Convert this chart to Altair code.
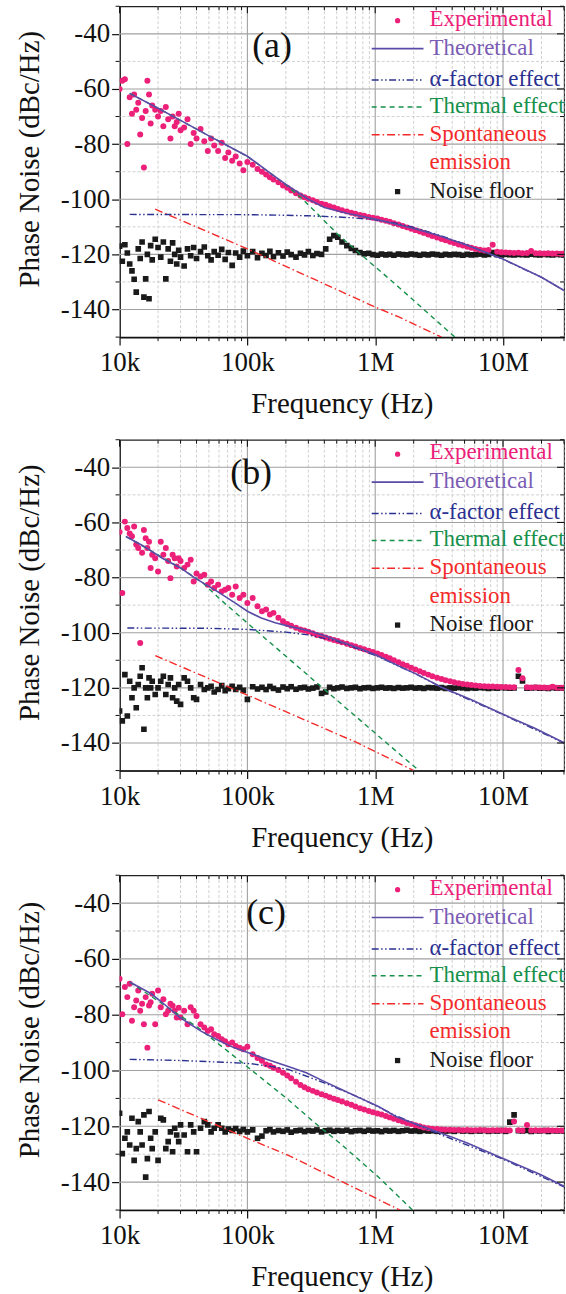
import altair as alt
import pandas as pd

FONT = "Liberation Serif"
W, H = 446, 332
H_C = 336
XDOM = [10000, 30000000]
YDOM = [-150, -30]

# ---------------- tick / label lists ----------------
X_TICKS = [10000, 20000, 30000, 40000, 50000, 60000, 70000, 80000, 90000,
           100000, 200000, 300000, 400000, 500000, 600000, 700000, 800000, 900000,
           1000000, 2000000, 3000000, 4000000, 5000000, 6000000, 7000000, 8000000, 9000000,
           10000000, 20000000, 30000000]
X_MAJOR = [10000, 100000, 1000000, 10000000]
X_LABELS = ["10k", "100k", "1M", "10M"]
X_MINOR = [t for t in X_TICKS if t not in X_MAJOR]
Y_MAJOR = [-140, -120, -100, -80, -60, -40]
Y_MINOR = [-150, -130, -110, -90, -70, -50, -30]
Y_GRID_MINOR = [-130, -110, -90, -70, -50]

# ---------------- measured data (frequency in kHz) ----------------
FREQ_K = [10, 10.5, 11, 11.5, 12, 12.5, 13, 13.5, 14, 14.5,
          15, 15.5, 16, 16.5, 17, 17.5, 18, 19, 20, 21,
          22, 23, 24, 25, 26, 27, 28, 29, 30, 32,
          34, 36, 38, 40, 43, 46, 49, 52, 55, 59,
          63, 67, 71, 76, 81, 87, 93, 100, 110, 120,
          130, 140, 150, 160, 175, 190, 205, 220, 240, 260,
          280, 300, 325, 350, 380, 410, 440, 475, 510, 550,
          600, 650, 700, 760, 820, 890, 960, 1040, 1120, 1210,
          1300, 1400, 1520, 1640, 1770, 1910, 2060, 2230, 2400, 2600,
          2800, 3050, 3300, 3550, 3850, 4150, 4500, 4850, 5250, 5650,
          6100, 6600, 7150, 7700, 8300, 9000, 9700, 10500, 11300, 12200,
          13200, 14200, 15400, 16600, 18000, 19400, 21000, 22600, 24400, 26400,
          28500, 30000]

EXP_A = [-60, -57, -56.5, -80, -63, -69, -62, -67.5, -65, -76.5,
         -70.5, -88.5, -68, -57, -62, -72.5, -66, -67.5, -70, -68,
         -73.5, -66.5, -71, -78, -70, -73.5, -72, -69, -75, -74,
         -71, -80, -76, -78, -74.5, -79, -82.5, -78, -80.5, -82.5,
         -79.5, -85, -83, -86, -84.5, -87, -89.5, -86.5, -87.5, -89,
         -90, -91, -92, -92.8, -93.8, -95, -95.8, -96.8, -97.8, -98.6,
         -99.3, -99.8, -100.4, -101, -101.6, -102, -102.5, -103, -103.5, -104,
         -104.4, -104.9, -105.3, -105.7, -106, -106.4, -106.7, -107, -107.4, -107.8,
         -108.2, -108.7, -109.2, -109.7, -110.2, -110.7, -111.2, -111.7, -112.2, -112.8,
         -113.3, -113.9, -114.4, -114.9, -115.4, -115.9, -116.4, -116.8, -117.2, -117.6,
         -118, -118.3, -118.6, -118.4, -116.5, -119, -119.2, -119.3, -119.4, -119.5,
         -119.4, -119.6, -119.5, -118.8, -119.6, -119.6, -119.7, -119.6, -119.7, -119.7,
         -119.8, -119.7]

NOISE_A = [-117, -122.5, -116.5, -119.5, -123.5, -126, -129, -133.7, -118, -121.5,
           -115.5, -135.5, -128.9, -120, -136.1, -116.8, -122, -114.5, -117.5, -121,
           -115.5, -128.9, -118, -122.5, -115.8, -120, -123.5, -118.5, -121, -124.2,
           -118, -120.5, -117.5, -121.5, -119, -117.3, -120.5, -122, -119, -120.3,
           -118.2, -121.8, -119.3, -124, -119.5, -121, -118.8, -120.5, -119, -121.2,
           -119.6, -120.4, -118.9, -120.8, -119.4, -120.6, -119.2, -120.1, -121, -119.6,
           -120.2, -119, -120.4, -119.7, -120, -118, -114.5, -113.2, -113.8, -115.5,
           -116.8, -117.8, -118.6, -119.3, -119.8, -119.6, -120.1, -120.3, -119.9, -120.2,
           -120, -120.3, -119.9, -120.1, -120.2, -119.9, -120.1, -120.3, -120, -120.2,
           -119.9, -120.1, -120.3, -120, -120.2, -120, -120.1, -120.3, -120, -120.2,
           -120.1, -119.9, -120.2, -120, -119.3, -120.1, -120.2, -120, -120.1, -120.2,
           -120, -120.1, -120.2, -119.9, -120.1, -120.2, -120, -120.1, -120.2, -120,
           -120.1, -120.2]

EXP_B = [-63.5, -85.6, -59.7, -62, -64, -65, -61.5, -68, -69.3, -103.7,
         -71, -62.7, -65.7, -69.3, -67, -76.5, -71.7, -73, -77.8, -67,
         -71.7, -69.3, -74, -80.2, -71.7, -73, -76, -73, -74, -76.5,
         -75.3, -73.5, -81.4, -78.5, -79.6, -79, -82.6, -81.4, -83.8, -82.6,
         -85, -84.4, -83.8, -86.2, -83.2, -87.4, -86.2, -89.2, -87.4, -90.4,
         -92.2, -91.6, -93.4, -92.8, -94.6, -95.8, -96.8, -97.5, -98.2, -98.8,
         -99.2, -99.6, -100.2, -100.8, -101.2, -101.7, -102.2, -102.6, -103, -103.5,
         -104, -104.5, -105, -105.5, -106, -106.5, -107, -107.5, -108.1, -108.7,
         -109.3, -110, -110.7, -111.4, -112, -112.7, -113.3, -114, -114.6, -115.2,
         -115.8, -116.3, -116.8, -117.2, -117.6, -118, -118.3, -118.6, -118.8, -119,
         -119.1, -119.3, -119.4, -119.5, -119.5, -119.6, -119.7, -119.7, -119.8, -119.8,
         -113.5, -116.5, -119.8, -119.9, -119.8, -119.9, -119.9, -120, -119.6, -120,
         -120, -120]

NOISE_B = [-128.4, -132, -115.2, -130.2, -117.6, -123.6, -120, -127.2, -118.8, -115.8,
           -112.7, -135, -120, -123.6, -116.4, -120, -117.6, -122.4, -120, -117.6,
           -115.8, -122.4, -118.8, -116.4, -123.6, -120, -124.8, -118.8, -126, -116.4,
           -117.6, -120, -123.6, -124.2, -118.8, -120.6, -120, -119.4, -121.5, -120.6,
           -119.2, -121, -120.3, -119.4, -120.6, -119.8, -120.9, -124.2, -119.6, -120.4,
           -119.8, -120.6, -119.5, -120.2, -120.8, -119.7, -120.3, -119.6, -120.5, -120,
           -119.8, -120.4, -120.1, -119.7, -122, -121.5, -119.8, -120.3, -120, -119.7,
           -120.2, -120, -119.8, -120.3, -120, -119.9, -120.2, -120, -119.8, -120.1,
           -120, -120.2, -119.9, -120.1, -120, -119.8, -120.1, -120, -120.2, -119.9,
           -120, -120.1, -119.9, -120.2, -120, -120.1, -119.9, -120, -120.2, -120,
           -120.1, -119.9, -120, -120.2, -120, -120.1, -119.9, -120, -120.1, -120,
           -115.8, -117.5, -120.1, -120, -119.9, -120.1, -120, -120.2, -119.9, -120.1,
           -120, -120.1]

EXP_C = [-67.1, -79.8, -70.1, -73.7, -68.9, -82.2, -77.3, -74.9, -71.3, -78.6,
         -76.1, -83.4, -73.7, -91.8, -76.7, -75.5, -72.5, -83.4, -71.3, -77.3,
         -74.5, -79.8, -78.6, -76.1, -76.8, -78.6, -81, -77.5, -81, -78.6,
         -83.4, -77.3, -78.6, -80.5, -83.4, -84.6, -85.8, -85.2, -87, -87.6,
         -88.8, -89.5, -90.6, -90, -91.2, -91.8, -92.4, -91.5, -94.2, -95.5,
         -96.5, -97.8, -98.3, -99, -99.8, -100.8, -101.8, -102.8, -104, -105.2,
         -106, -106.7, -107.3, -107.9, -108.5, -109, -109.6, -110.1, -110.6, -111.1,
         -111.7, -112.3, -112.9, -113.5, -114, -114.5, -115, -115.4, -115.8, -116.3,
         -116.8, -117.3, -117.8, -118.3, -118.8, -119.2, -119.6, -120, -120.4, -120.7,
         -120.9, -121, -121.1, -121.2, -121.2, -121.3, -121.3, -121.4, -121.3, -121.4,
         -121.4, -121.3, -121.4, -121.5, -121.4, -121.4, -121.5, -121.4, -121.5, -118.3,
         -121.4, -121.5, -119.5, -121.5, -121.4, -121.5, -121.5, -121.4, -121.5, -121.5,
         -121.5, -121.5]

NOISE_C = [-115.3, -129.8, -124.3, -122, -126.7, -117.1, -132.2, -128, -118.3, -122,
           -126.7, -115.9, -138.2, -131.6, -114.7, -124.3, -128, -122, -132.2, -117.1,
           -117.7, -128, -125.5, -122, -129.1, -120.7, -123.1, -125.5, -119.5, -123.1,
           -129.1, -119.5, -122, -129.1, -120.7, -118.3, -119.5, -122, -120.7, -119.5,
           -120.7, -122, -121, -121.5, -120.8, -121.8, -121.2, -122, -121.3, -124.3,
           -123.5, -121.6, -121.2, -122, -121.5, -121.8, -121.3, -122.1, -121.6, -121.4,
           -121.9, -121.5, -121.7, -121.3, -122, -121.6, -121.4, -121.8, -121.5, -121.7,
           -121.4, -121.9, -121.6, -121.5, -121.8, -121.4, -121.7, -121.6, -121.9, -121.5,
           -121.7, -121.5, -121.8, -121.6, -121.4, -121.7, -121.6, -121.8, -121.5, -121.7,
           -121.6, -121.8, -121.5, -121.7, -121.6, -121.8, -121.5, -121.7, -121.6, -121.8,
           -121.6, -121.7, -121.5, -121.8, -121.6, -121.7, -121.5, -121.8, -118.5, -115.9,
           -121.6, -121.7, -121.5, -121.8, -121.6, -121.7, -121.5, -121.8, -121.6, -121.7,
           -121.6, -121.7]

# ---------------- model curves (frequency in kHz) ----------------
THEO_A_F = [12, 20, 30, 50, 70, 100, 150, 200, 300, 400, 600, 1000, 2000, 3000, 5000, 10000, 20000, 30000]
THEO_A = [-61.6, -67.0, -71.4, -77.0, -80.6, -84.4, -90.4, -94.6, -100.0, -103.0, -105.1, -107.2, -110.6, -112.9, -116.3, -121.7, -128.3, -133.1]
ALPHA_A_F = [12, 100, 200, 300, 500, 700, 1000, 1500, 2000, 3000, 5000, 10000, 20000, 30000]
ALPHA_A = [-105.5, -105.6, -105.8, -106.0, -106.4, -106.8, -107.5, -108.8, -110.2, -112.7, -116.2, -121.8, -128.3, -133.1]
THERM_A_F = [12, 20, 30, 50, 70, 100, 150, 200, 271, 366, 522, 1000, 1530, 4200]
THERM_A = [-61.6, -67.0, -71.4, -77.0, -80.6, -84.5, -90.4, -94.8, -100.0, -106.0, -113.2, -124.5, -131.9, -150.0]
SPONT_A_F = [19, 100, 1000, 1530, 3300]
SPONT_A = [-103.6, -118.0, -139.1, -142.7, -150.0]

THEO_B_F = [11.2, 15.6, 21.6, 30, 39, 58, 80, 100, 127, 165, 214, 298, 413, 575, 797, 1000, 1530, 2140, 3370, 5600, 10000, 17400, 30000]
THEO_B = [-65.1, -68.7, -73.0, -76.5, -80.2, -85.0, -89.2, -92.2, -94.6, -96.4, -97.7, -99.2, -101.3, -103.7, -106.1, -107.9, -112.1, -115.2, -120.0, -124.2, -129.6, -134.5, -139.9]
ALPHA_B_F = [11.5, 50, 100, 200, 300, 500, 1000, 2000, 3400, 10000, 30000]
ALPHA_B = [-98.3, -98.4, -98.8, -99.8, -100.8, -103.0, -108.2, -114.6, -120.1, -129.7, -140.0]
THERM_B_F = [11.2, 20, 30, 45, 60, 80, 111, 214, 413, 797, 1530, 2200]
THERM_B = [-65.1, -71.8, -76.5, -82.0, -87.5, -92.6, -98.3, -109.7, -121.1, -132.5, -143.8, -150.0]
SPONT_B_F = [19, 100, 723, 2000]
SPONT_B = [-108.3, -122.6, -139.9, -150.0]

THEO_C_F = [12, 17.7, 23, 29.7, 43, 57, 78, 102, 141, 209, 289, 398, 550, 762, 1060, 1450, 2000, 2800, 3900, 5300, 10000, 19600, 30000]
THEO_C = [-68.3, -72.5, -76.7, -81.0, -85.8, -88.8, -91.8, -93.6, -96.0, -98.6, -100.8, -103.9, -106.9, -109.9, -112.9, -116.5, -118.9, -121.3, -123.7, -126.1, -131.5, -137.3, -141.5]
ALPHA_C_F = [12, 29.7, 78, 108, 157, 209, 398, 762, 1450, 2800, 10000, 30000]
ALPHA_C = [-96.0, -96.4, -97.2, -97.6, -98.6, -99.6, -104.4, -109.8, -116.2, -121.8, -131.8, -141.7]
THERM_C_F = [12, 41, 102, 209, 328, 550, 1060, 1960]
THERM_C = [-68.3, -84.6, -99.0, -110.5, -118.3, -126.7, -138.2, -150.0]
SPONT_C_F = [20, 100, 209, 1560]
SPONT_C = [-110.5, -124.3, -130.4, -150.0]

# ---------------- styling ----------------
C_EXP = "#EC2079"
C_THEO = "#5A4BA6"
C_THEO_TXT = "#7A5CB4"
C_ALPHA = "#2B3190"
C_THERM = "#16904A"
C_SPONT = "#F42A2A"
C_NOISE = "#1A1A1A"
C_AX = "#111111"

XS = alt.Scale(type="log", domain=XDOM, nice=False)
YS = alt.Scale(domain=YDOM, nice=False, zero=False)

XLABEL_EXPR = " : ".join(
    [f"datum.value == {v} ? '{l}'" for v, l in zip(X_MAJOR, X_LABELS)]) + " : ''"
YLABEL_EXPR = "'' + datum.value"

LEG_ROWS = [12.5, 41.5, 73.0, 100.0, 128.0, 156.5, 185.0]
LEG_TXT_X = 311
LEG_LINE = (253, 305)
LEG_SYM_X = 279
TICK_MAJ, TICK_MIN = 8, 4


def x_axis_def():
    return alt.Axis(values=X_MAJOR, labelExpr=XLABEL_EXPR, title="Frequency (Hz)",
                    grid=False, labelFlush=False, labelOverlap=False,
                    tickSize=TICK_MAJ, labelPadding=5, titlePadding=14, domainWidth=1.6,
                    domainColor=C_AX, tickColor=C_AX, tickWidth=1.2)


def y_axis_def(h):
    return alt.Axis(values=Y_MAJOR, labelExpr=YLABEL_EXPR, title="Phase Noise (dBc/Hz)",
                    grid=False, labelOverlap=False, labelFlush=False,
                    tickSize=TICK_MAJ, labelPadding=2, titlePadding=16,
                    titleY=round(h * 153 / 332, 1),
                    domainWidth=1.6, domainColor=C_AX, tickColor=C_AX, tickWidth=1.2)


def pts(fk, vals):
    return pd.DataFrame({"f": [a * 1000 for a in fk], "v": vals})


def one(label="x"):
    return pd.DataFrame({"t": [label]})


def panel(tag, tag_x, tag_y, exp_v, noise_v, theo, alpha, therm, spont, h=H):
    def xenc():
        return alt.X("f:Q", scale=XS, axis=x_axis_def())

    def yenc():
        return alt.Y("v:Q", scale=YS, axis=y_axis_def(h))

    def xrule(vals, y0, y1, width=1.1):
        return alt.Chart(pd.DataFrame({"f": vals})).mark_rule(color=C_AX, strokeWidth=width).encode(
            x=xenc(), y=alt.value(y0), y2=alt.value(y1))

    def yrule(vals, x0, x1, width=1.1):
        return alt.Chart(pd.DataFrame({"v": vals})).mark_rule(color=C_AX, strokeWidth=width).encode(
            y=yenc(), x=alt.value(x0), x2=alt.value(x1))

    noise = alt.Chart(pts(FREQ_K, noise_v)).mark_square(
        size=32, color=C_NOISE, opacity=1, clip=True).encode(x=xenc(), y=yenc())
    exp = alt.Chart(pts(FREQ_K, exp_v)).mark_circle(
        size=36, color=C_EXP, opacity=1, clip=True).encode(x=xenc(), y=yenc())

    gx_minor = alt.Chart(pd.DataFrame({"f": X_MINOR})).mark_rule(
        color="#C4C4C4", strokeDash=[3, 2], strokeWidth=0.8).encode(x=xenc())
    gy_minor = alt.Chart(pd.DataFrame({"v": Y_GRID_MINOR})).mark_rule(
        color="#C4C4C4", strokeDash=[3, 2], strokeWidth=0.8).encode(y=yenc())
    gx_major = alt.Chart(pd.DataFrame({"f": X_MAJOR})).mark_rule(
        color="#A0A0A0", strokeWidth=1.1).encode(x=xenc())
    gy_major = alt.Chart(pd.DataFrame({"v": Y_MAJOR})).mark_rule(
        color="#A0A0A0", strokeWidth=1.1).encode(y=yenc())

    ticks = [
        xrule(X_MAJOR, 0, 7), xrule(X_MINOR, 0, 4, 1.0),            # top, inward
        yrule(Y_MAJOR, W - 7, W), yrule(Y_MINOR, W - 4, W, 1.0),    # right, inward
        xrule(X_MINOR, h, h + TICK_MIN, 1.0),                        # bottom minor, outward
        yrule(Y_MINOR, -TICK_MIN, 0, 1.0),                           # left minor, outward
    ]

    def line(d, color, dash, width):
        kw = dict(color=color, strokeWidth=width, clip=True)
        if dash:
            kw["strokeDash"] = dash
        return alt.Chart(pts(*d)).mark_line(**kw).encode(x=xenc(), y=yenc())

    DASH_ALPHA = [7, 2.5, 1.5, 2.5, 1.5, 2.5]
    DASH_THERM = [5, 4]
    DASH_SPONT = [8, 3, 1.5, 3]

    l_therm = line(therm, C_THERM, DASH_THERM, 1.4)
    l_spont = line(spont, C_SPONT, DASH_SPONT, 1.4)
    l_alpha = line(alpha, C_ALPHA, DASH_ALPHA, 1.4)
    l_theo = line(theo, C_THEO, None, 1.6)

    def ltext(label, color, row):
        return alt.Chart(one(label)).mark_text(
            align="left", baseline="middle", font=FONT, fontSize=23, color=color).encode(
            text="t:N", x=alt.value(LEG_TXT_X), y=alt.value(LEG_ROWS[row]))

    def lline(color, dash, row, width=1.5):
        kw = dict(color=color, strokeWidth=width)
        if dash:
            kw["strokeDash"] = dash
        return alt.Chart(one()).mark_rule(**kw).encode(
            x=alt.value(LEG_LINE[0]), x2=alt.value(LEG_LINE[1]), y=alt.value(LEG_ROWS[row] + 1))

    leg = [
        alt.Chart(one()).mark_circle(size=28, color=C_EXP, opacity=1).encode(
            x=alt.value(LEG_SYM_X), y=alt.value(LEG_ROWS[0] + 2)),
        ltext("Experimental", C_EXP, 0),
        lline(C_THEO, None, 1, 1.6),
        ltext("Theoretical", C_THEO_TXT, 1),
        lline(C_ALPHA, DASH_ALPHA, 2),
        ltext("\u03b1-factor effect", C_ALPHA, 2),
        lline(C_THERM, DASH_THERM, 3),
        ltext("Thermal effect", C_THERM, 3),
        lline(C_SPONT, DASH_SPONT, 4),
        ltext("Spontaneous", C_SPONT, 4),
        ltext("emission", C_SPONT, 5),
        alt.Chart(one()).mark_square(size=28, color=C_NOISE, opacity=1).encode(
            x=alt.value(LEG_SYM_X), y=alt.value(LEG_ROWS[6] + 1)),
        ltext("Noise floor", C_NOISE, 6),
    ]

    tag_mark = alt.Chart(one(tag)).mark_text(
        align="center", baseline="middle", font=FONT, fontSize=36, color=C_AX).encode(
        text="t:N", x=alt.value(tag_x), y=alt.value(tag_y))

    return alt.layer(gx_minor, gy_minor, gx_major, gy_major,
                     noise, exp, l_therm, l_spont, l_alpha, l_theo,
                     *ticks, *leg, tag_mark).properties(width=W, height=h)


pa = panel("(a)", 153, 40, EXP_A, NOISE_A,
           (THEO_A_F, THEO_A), (ALPHA_A_F, ALPHA_A), (THERM_A_F, THERM_A), (SPONT_A_F, SPONT_A))
pb = panel("(b)", 132, 33, EXP_B, NOISE_B,
           (THEO_B_F, THEO_B), (ALPHA_B_F, ALPHA_B), (THERM_B_F, THERM_B), (SPONT_B_F, SPONT_B))
pc = panel("(c)", 147, 38, EXP_C, NOISE_C,
           (THEO_C_F, THEO_C), (ALPHA_C_F, ALPHA_C), (THERM_C_F, THERM_C), (SPONT_C_F, SPONT_C),
           h=H_C)

chart = alt.vconcat(alt.vconcat(pa, pb, spacing=18), pc, spacing=20).properties(
    padding={"left": 14, "top": 2, "right": 0, "bottom": 0},
    background="white",
).configure_view(stroke="#222", strokeWidth=1.1).configure_axis(
    labelFont=FONT, labelFontSize=27, labelColor=C_AX,
    titleFont=FONT, titleFontSize=29, titleFontWeight="normal", titleColor=C_AX,
)

chart.save("out.html", embed_options={"renderer": "svg", "actions": False})
